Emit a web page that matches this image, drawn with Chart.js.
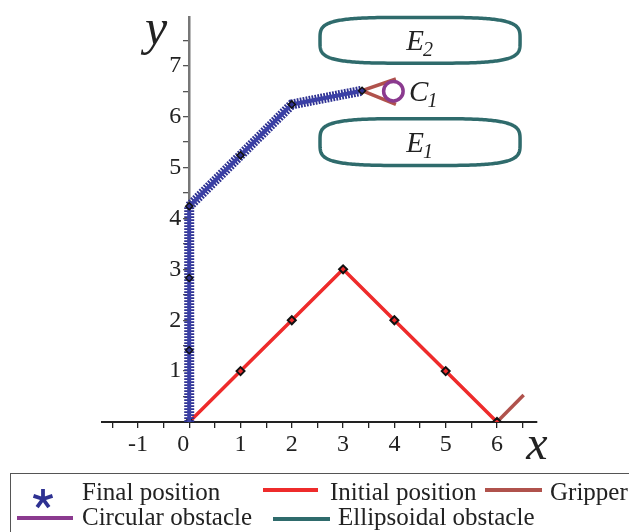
<!DOCTYPE html>
<html>
<head>
<meta charset="utf-8">
<script src="https://cdn.jsdelivr.net/npm/chart.js@4.4.1/dist/chart.umd.min.js"></script>
<style>
body{margin:0;background:#fff;}
#wrap{position:relative;width:629px;height:532px;overflow:hidden;}
#legendBox{position:absolute;left:10px;top:473px;width:680px;height:80px;border:1.5px solid #555;box-sizing:border-box;}
.item{position:absolute;font-family:"Liberation Serif",serif;font-size:25px;line-height:25px;color:#222;white-space:nowrap;}
.swatch{position:absolute;height:4px;}
</style>
</head>
<body>
<div id="wrap">
  <canvas id="chart" width="629" height="532"></canvas>
  <div id="legendBox"></div>
  <svg style="position:absolute;left:30px;top:486px" width="28" height="26" id="star"></svg>
  <div class="item" style="left:82px;top:479px">Final position</div>
  <div class="swatch" style="left:263px;top:488px;width:55px;background:#ee2b2b"></div>
  <div class="item" style="left:330px;top:479px">Initial position</div>
  <div class="swatch" style="left:485px;top:488px;width:57px;background:#b0524c"></div>
  <div class="item" style="left:550px;top:479px">Gripper</div>
  <div class="swatch" style="left:17px;top:516px;width:56px;background:#8b3a8f"></div>
  <div class="item" style="left:82px;top:504px">Circular obstacle</div>
  <div class="swatch" style="left:273px;top:517px;width:57px;background:#2f6b6c"></div>
  <div class="item" style="left:338px;top:504px">Ellipsoidal obstacle</div>
</div>
<script>
//--------------------------------------------------
// DATA
//--------------------------------------------------
const finalX = [0, 0, 0, 0, 1, 2, 3.37];
const finalY = [0, 1.41, 2.83, 4.24, 5.24, 6.24, 6.51];

const initX = [0, 1, 2, 3, 4, 5, 6];
const initY = [0, 1, 2, 3, 2, 1, 0];

const gripInitX = [6, 6.52];
const gripInitY = [0, 0.53];
const gripFinalX = [4.03, 3.37, 4.03];
const gripFinalY = [6.74, 6.51, 6.24];

const circleX = 3.98, circleY = 6.5, circleR = 0.19;
const circleLabel = ["C", "1"];

const ellipseCx = [4.5, 4.5];
const ellipseCy = [5.5, 7.5];
const ellipseA = [1.95, 1.95];
const ellipseB = [0.46, 0.45];
const ellipseLabels = [["E", "1"], ["E", "2"]];

const xTicks = [-1, 0, 1, 2, 3, 4, 5, 6];
const yTicks = [1, 2, 3, 4, 5, 6, 7];

const BLUE = "#2e3192", RED = "#ee2b2b", BROWN = "#b0524c", PURPLE = "#8b3a8f", TEAL = "#2f6b6c";
const SERIF = "Liberation Serif";

// legend star
(function(){
  const svg = document.getElementById("star");
  let d = "";
  for(let k=0;k<5;k++){
    const a = -Math.PI/2 + k*2*Math.PI/5;
    d += `M13 13 L${13+10*Math.cos(a)} ${13+10*Math.sin(a)} `;
  }
  svg.innerHTML = `<path d="${d}" stroke="${BLUE}" stroke-width="3.8" stroke-linecap="butt" fill="none"/>`;
})();

const pts = (xs, ys) => xs.map((v,i)=>({x:v, y:ys[i]}));

//--------------------------------------------------
// OBSTACLES + LABELS
//--------------------------------------------------
function subLabel(ctx, parts, px, py, align){
  ctx.font = `italic 29px "${SERIF}"`;
  const w1 = ctx.measureText(parts[0]).width;
  ctx.font = `italic 20px "${SERIF}"`;
  const w2 = ctx.measureText(parts[1]).width;
  const start = align === "center" ? px - (w1+w2)/2 : px;
  ctx.textAlign = "left";
  ctx.textBaseline = "alphabetic";
  ctx.fillStyle = "#222";
  ctx.font = `italic 29px "${SERIF}"`;
  ctx.fillText(parts[0], start, py + 10);
  ctx.font = `italic 20px "${SERIF}"`;
  ctx.fillText(parts[1], start + w1 - 1, py + 16);
}

const obstaclePlugin = {
  id: "obstacles",
  afterDatasetsDraw(chart){
    const {ctx, scales:{x, y}} = chart;
    ctx.save();
    // ellipsoidal obstacles (superellipse outline)
    ctx.strokeStyle = TEAL;
    ctx.lineWidth = 3.5;
    for(let i=0;i<ellipseCx.length;i++){
      ctx.beginPath();
      for(let k=0;k<=240;k++){
        const t = k/240*2*Math.PI;
        const c = Math.cos(t), s = Math.sin(t);
        const ex = ellipseCx[i] + ellipseA[i]*Math.sign(c)*Math.pow(Math.abs(c), 0.5);
        const ey = ellipseCy[i] + ellipseB[i]*Math.sign(s)*Math.pow(Math.abs(s), 0.5);
        const px = x.getPixelForValue(ex), py = y.getPixelForValue(ey);
        if(k===0) ctx.moveTo(px, py); else ctx.lineTo(px, py);
      }
      ctx.closePath();
      ctx.stroke();
      subLabel(ctx, ellipseLabels[i], x.getPixelForValue(ellipseCx[i]), y.getPixelForValue(ellipseCy[i]), "center");
    }
    // circular obstacle
    ctx.strokeStyle = PURPLE;
    ctx.lineWidth = 3.5;
    ctx.beginPath();
    const r = x.getPixelForValue(circleX + circleR) - x.getPixelForValue(circleX);
    ctx.arc(x.getPixelForValue(circleX), y.getPixelForValue(circleY), r, 0, 2*Math.PI);
    ctx.stroke();
    subLabel(ctx, circleLabel, x.getPixelForValue(circleX + circleR) + 6, y.getPixelForValue(circleY), "left");

    // axis names
    ctx.fillStyle = "#222";
    ctx.textAlign = "center";
    ctx.textBaseline = "alphabetic";
    ctx.font = `italic 48px "${SERIF}"`;
    ctx.fillText("x", chart.chartArea.right, y.getPixelForValue(0) + 37);
    ctx.font = `italic 50px "${SERIF}"`;
    ctx.fillText("y", x.getPixelForValue(0) - 33, chart.chartArea.top + 27);
    ctx.restore();
  }
};

//--------------------------------------------------
// CHART
//--------------------------------------------------
const tickFont = {family: SERIF, size: 24};

new Chart(document.getElementById("chart"), {
  type: "line",
  data: {
    datasets: [
      { // final position joints
        data: pts(finalX, finalY), borderColor: "#3b40a6", borderWidth: 4,
        pointStyle: "rectRot", pointRadius: [0,3.5,3.5,3.5,3.5,3.5,3.5],
        pointBorderColor: "#111", pointBorderWidth: 1.5, pointBackgroundColor: BLUE, tension: 0
      },
      { // final position star band
        data: pts(finalX, finalY), borderColor: BLUE, borderWidth: 10,
        borderDash: [1.8, 1.2], pointRadius: 0, tension: 0
      },
      {
        data: pts(gripFinalX, gripFinalY), borderColor: BROWN, borderWidth: 3.5, pointRadius: 0, tension: 0
      },
      {
        data: pts(initX, initY), borderColor: RED, borderWidth: 3.5,
        pointStyle: "rectRot", pointRadius: 4, pointBorderColor: "#111", pointBorderWidth: 2,
        pointBackgroundColor: RED, tension: 0
      },
      {
        data: pts(gripInitX, gripInitY), borderColor: BROWN, borderWidth: 3.5, pointRadius: 0, tension: 0
      }
    ]
  },
  options: {
    responsive: false,
    animation: false,
    layout: {padding: {left: 102, right: 92, top: 17, bottom: 110}},
    plugins: {legend: {display: false}, tooltip: {enabled: false}},
    scales: {
      x: {
        type: "linear", position: {y: 0}, min: -1.7, max: 6.78,
        ticks: {
          stepSize: 0.5, includeBounds: false, autoSkip: false, maxRotation: 0, padding: 3,
          color: "#222", font: tickFont,
          callback: v => xTicks.includes(v) ? (v === 0 ? "0\u2002" : String(v)) : ""
        },
        grid: {drawOnChartArea: false, tickLength: 5, color: "#222", lineWidth: 1.3},
        border: {color: "#222", width: 2}
      },
      y: {
        type: "linear", position: {x: 0}, min: 0, max: 7.95,
        ticks: {
          stepSize: 0.5, includeBounds: false, autoSkip: false, padding: 3,
          color: "#222", font: tickFont,
          callback: v => yTicks.includes(v) ? String(v) + "\u2004" : ""
        },
        grid: {drawOnChartArea: false, tickLength: 5, color: "#555", lineWidth: 1.3},
        border: {color: "#777", width: 2.5}
      }
    }
  },
  plugins: [obstaclePlugin]
});
</script>
</body>
</html>
